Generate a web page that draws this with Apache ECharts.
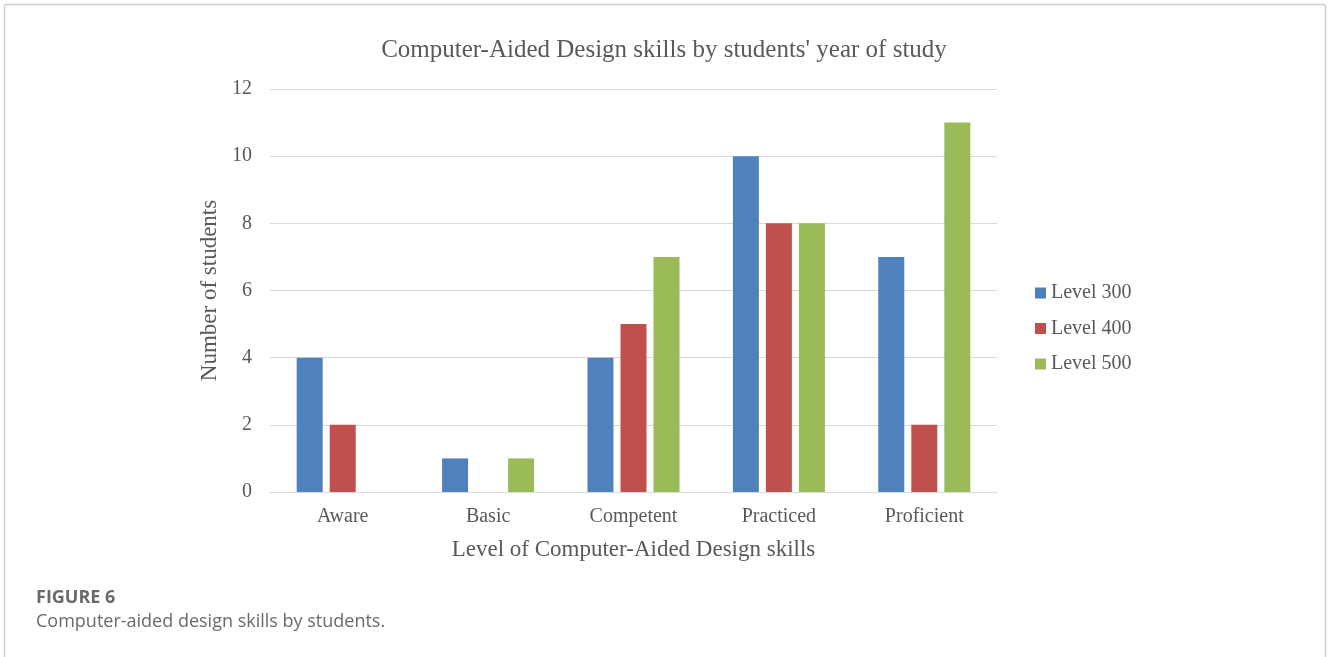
<!DOCTYPE html>
<html>
<head>
<meta charset="utf-8">
<script src="https://cdn.jsdelivr.net/npm/echarts@6/dist/echarts.min.js"></script>
<style>html,body{margin:0;padding:0;background:#fff}#c{width:1328px;height:657px}</style>
</head>
<body>
<div id="c"></div>
<script>
var categories = ['Aware', 'Basic', 'Competent', 'Practiced', 'Proficient'];
var level300 = [4, 1, 4, 10, 7];
var level400 = [2, 0, 5, 8, 2];
var level500 = [0, 1, 7, 8, 11];
var seriesNames = ['Level 300', 'Level 400', 'Level 500'];
var colors = ['#4F81BD', '#C0504D', '#9BBB59'];

var serif = '"Liberation Serif", "Times New Roman", serif';
var chart = echarts.init(document.getElementById('c'));
function bar(name, data, color) {
  return { name: name, type: 'bar', data: data, barWidth: 26, barGap: '27%',
    itemStyle: { color: color }, emphasis: { disabled: true } };
}
chart.setOption({
  animation: false,
  title: { text: "Computer-Aided Design skills by students' year of study", left: 'center', top: 33,
    textStyle: { fontFamily: serif, fontSize: 25, fontWeight: 'normal', color: '#595959' } },
  legend: { orient: 'vertical', left: 1030, top: 278, itemWidth: 11, itemHeight: 11, itemGap: 15.5,
    icon: 'rect', textStyle: { fontFamily: serif, fontSize: 20, color: '#595959' } },
  grid: { left: 270, right: 331, top: 89, bottom: 165 },
  xAxis: { type: 'category', data: categories,
    axisLine: { lineStyle: { color: '#d9d9d9', width: 1 } }, axisTick: { show: false },
    axisLabel: { fontFamily: serif, fontSize: 20, color: '#595959', margin: 15 },
    name: 'Level of Computer-Aided Design skills', nameLocation: 'middle', nameGap: 46,
    nameTextStyle: { fontFamily: serif, fontSize: 23, color: '#595959' } },
  yAxis: { type: 'value', min: 0, max: 12, interval: 2,
    axisLine: { show: false }, axisTick: { show: false },
    splitLine: { lineStyle: { color: '#d9d9d9' } },
    axisLabel: { fontFamily: serif, fontSize: 20, color: '#595959', margin: 18 },
    name: 'Number of students', nameLocation: 'middle', nameGap: 41,
    nameTextStyle: { fontFamily: serif, fontSize: 23, color: '#595959' } },
  series: [bar(seriesNames[0], level300, colors[0]), bar(seriesNames[1], level400, colors[1]), bar(seriesNames[2], level500, colors[2])],
  graphic: [
    { type: 'rect', shape: { x: 4.5, y: 4.5, width: 1321, height: 700, r: 2 }, silent: true,
      style: { fill: null, stroke: '#cfcfcf', lineWidth: 1.5 } },
    { type: 'text', left: 36, top: 589, style: { text: 'FIGURE 6', fontFamily: '"Open Sans", sans-serif', fontSize: 18, fontWeight: 'bold', fill: '#6a6a6a' } },
    { type: 'text', left: 36, top: 613, style: { text: 'Computer-aided design skills by students.', fontFamily: '"Open Sans", sans-serif', fontSize: 18, fill: '#6a6a6a' } }
  ]
});
</script>
</body>
</html>
